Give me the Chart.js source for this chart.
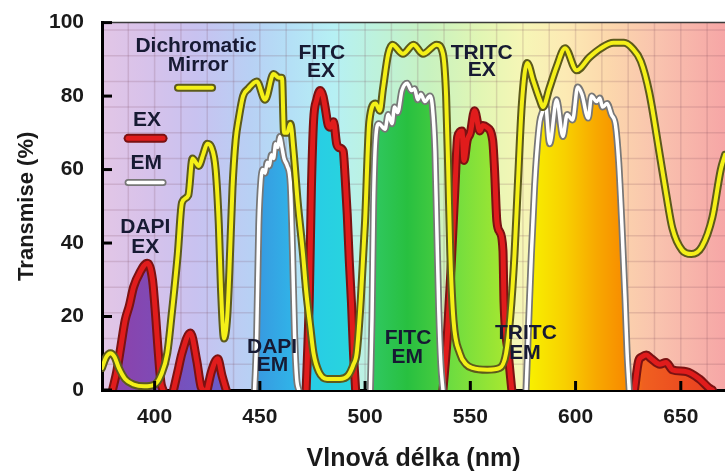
<!DOCTYPE html>
<html>
<head>
<meta charset="utf-8">
<script src="https://cdn.jsdelivr.net/npm/chart.js@4.4.1/dist/chart.umd.min.js"></script>
<style>
  html, body { margin: 0; padding: 0; background: #fff; }
</style>
</head>
<body>
<canvas id="chart" width="725" height="473"></canvas>
<script>
// osy
const xTicks = [400, 450, 500, 550, 600, 650];
const yTicks = [0, 20, 40, 60, 80, 100];

// dichroicke zrcadlo
const mirrorNm = [375, 377, 379, 381, 383, 386, 390, 395, 400, 403, 406, 408, 411, 413, 416, 418, 421, 423, 425, 427, 429, 430.5, 431.5, 433, 434.5, 435.5, 437, 438.5, 440, 442, 444.5, 448.5, 452.5, 456.5, 459, 460.5, 461.5, 463, 464.5, 466, 468, 470.5, 472, 474, 475.5, 478, 482, 488, 492, 494.5, 496, 498, 500, 502, 505, 507, 508.5, 511, 513, 518, 523, 527.5, 534, 537, 538.5, 539.5, 540.5, 542, 545, 548, 551, 558, 564, 567, 569, 571, 572.5, 574.5, 577, 580, 583, 584.5, 587.5, 591, 595, 600.5, 606.5, 612, 618, 623, 627, 631, 635, 640, 643, 646, 650.7, 655, 660, 665, 669, 671];
const mirrorT = [6, 9, 10, 9, 6, 3, 1.5, 1, 1.5, 4, 10, 20, 37, 51, 53, 63, 61, 64, 67, 66, 60, 45, 28, 14, 20, 32, 55, 68, 74, 80, 82, 84, 79, 86, 85, 85, 70, 70, 72.5, 65, 51, 37, 27, 17, 10, 5, 3, 3, 4, 7, 10, 25, 46, 73, 78, 76, 82, 91.5, 94, 91.5, 94, 91.5, 94, 91.5, 80, 60, 37, 19, 10, 7, 6, 5.5, 6, 10, 20, 37, 55, 78, 89, 84, 79, 77, 82, 88, 93, 87, 90.5, 93, 94.5, 94.5, 93, 89.5, 81, 64, 53.5, 44, 38, 37, 39, 47, 60, 64];

// excitace
const dapiExNm = [380, 382, 384, 386, 388, 390, 393, 396.5, 399, 400.5, 401.5, 403, 404];
const dapiExT = [0, 5, 12, 19, 23, 28, 32, 34.5, 30, 20, 12, 2, 0];
const dapiEx2Nm = [409, 411, 413, 417, 420, 422, 423];
const dapiEx2T = [0, 5, 10, 15.5, 8, 1, 0];
const dapiEx3Nm = [425, 427, 430, 432, 434];
const dapiEx3T = [0, 5, 8.5, 4, 0];
const fitcExNm = [472, 473.5, 474.5, 475.5, 477, 478.7, 480, 481, 482.5, 483.5, 485, 486.5, 487.5, 489.6, 490.5, 491.5, 492.5, 493.5, 494.5, 495.5];
const fitcExT = [0, 25, 55, 73, 79, 81.5, 80, 77, 72, 71.5, 73, 67, 66, 65, 58, 48, 35, 24, 10, 0];
const tritcExNm = [537, 539, 541, 542.7, 544, 546, 547, 548.5, 550, 552, 554.5, 556, 557.8, 560.6, 561.5, 562.6, 564, 565.5, 566, 568, 569.7];
const tritcExT = [0, 14, 35, 55, 69, 70.5, 62.5, 68, 70, 76, 70.5, 72, 71.5, 68, 60, 46, 43, 38, 24, 10, 0];
const redExNm = [628, 630, 631.5, 633.6, 636, 640, 643, 646, 652.6, 658.8, 663.5, 665];
const redExT = [0, 8, 9, 9.5, 8.5, 7, 7.5, 5.5, 5, 3, 0.5, 0];

// emise
const dapiEmNm = [447.5, 448.5, 449.5, 450.5, 451.5, 452.5, 453.5, 454.5, 455.5, 456.5, 457.5, 458.5, 459.5, 460.5, 461.5, 463, 464.5, 465.5, 466.5, 467.5, 468.5];
const dapiEmT = [0, 15, 45, 57, 60, 59, 62, 61, 64, 63, 67, 66, 69, 66, 63, 61, 56, 38, 15, 3, 0];
const fitcEmNm = [502.5, 503.3, 504, 505, 506.5, 509.5, 511, 512.8, 514, 515.5, 517.5, 520, 522, 523.5, 525, 526.5, 528.4, 530.8, 532, 533.2, 534, 535, 536, 537];
const fitcEmT = [0, 20, 50, 68, 72.5, 71, 75, 72.5, 77, 75.5, 81.5, 83.5, 81.5, 82, 79, 80.5, 78.5, 80, 77, 65, 46, 22, 7, 0];
const tritcEmNm = [576.5, 577.5, 579, 580.5, 581.5, 583, 584.4, 585.5, 587.7, 591, 594, 596, 598.6, 601, 603, 606, 607.6, 610, 611.5, 612.8, 615, 617, 619, 620.5, 622, 623.5, 624.5, 625.5];
const tritcEmT = [0, 15, 37, 55, 64, 73, 76, 79, 67, 79, 69, 75, 73.5, 82.5, 80.5, 74, 80, 78.5, 79.5, 77, 78, 75, 72, 62, 45, 25, 10, 0];

// barvy spektra (pozadi a vyplne)
const paleStops = [[375, '#e2c6e6'], [395, '#d8c2ea'], [420, '#c8c2f0'], [445, '#b8d0f4'], [465, '#b4e0f6'], [485, '#b6f0f4'], [505, '#bdf2dc'], [530, '#c8f2c0'], [555, '#e2f6b4'], [575, '#f6f6b6'], [595, '#fceab4'], [615, '#fcd8ac'], [640, '#f9c2ae'], [671, '#f6a6a6']];
const fillStops = [[375, '#9040a8'], [405, '#7c4cb8'], [432, '#6a5cc8'], [448, '#3898e0'], [466, '#30b4e8'], [474, '#28cce6'], [496, '#28d6dc'], [503, '#30c862'], [520, '#28c040'], [536, '#48cc40'], [540, '#6cdc40'], [568, '#a8e830'], [578, '#f8f000'], [595, '#f8d000'], [610, '#f8a800'], [625, '#f88800'], [632, '#f06020'], [671, '#e83820']];

function segmentsToPoints(segs) {
  const pts = [];
  segs.forEach(([nm, t], i) => {
    if (i > 0) pts.push({ x: nm[0] - 0.2, y: null });
    nm.forEach((v, j) => pts.push({ x: v, y: t[j] }));
  });
  return pts;
}

function spectrum(chart, stops) {
  const area = chart.chartArea;
  if (!area) return null;
  const sx = chart.scales.x;
  const g = chart.ctx.createLinearGradient(area.left, 0, area.right, 0);
  stops.forEach(([nm, c]) => {
    let f = (sx.getPixelForValue(nm) - area.left) / (area.right - area.left);
    g.addColorStop(Math.min(1, Math.max(0, f)), c);
  });
  return g;
}

const mirrorPts = segmentsToPoints([[mirrorNm, mirrorT]]);
const exPts = segmentsToPoints([[dapiExNm, dapiExT], [dapiEx2Nm, dapiEx2T], [dapiEx3Nm, dapiEx3T], [fitcExNm, fitcExT], [tritcExNm, tritcExT], [redExNm, redExT]]);
const emPts = segmentsToPoints([[dapiEmNm, dapiEmT], [fitcEmNm, fitcEmT], [tritcEmNm, tritcEmT]]);

const labelFont = 'bold 21px "Liberation Sans", Arial, sans-serif';
const inPlotText = [
  ['Dichromatic', 419.7, 93.7], ['Mirror', 420.7, 88.3],
  ['EX', 396.4, 73.4], ['EM', 396, 61.7],
  ['DAPI', 395.6, 44.3], ['EX', 395.6, 38.9],
  ['FITC', 479.5, 91.8], ['EX', 479, 86.7],
  ['TRITC', 555.4, 91.8], ['EX', 555.4, 87],
  ['DAPI', 455.8, 11.7], ['EM', 456, 6.8],
  ['FITC', 520.4, 14.1], ['EM', 520, 9],
  ['TRITC', 576.4, 15.5], ['EM', 576, 10]
];
const legendSamples = [
  [411.1, 427.3, 82.3, '#5c5a1c', '#f4f018', 8, 4],
  [387.4, 404, 68.5, '#7a1212', '#e01c1c', 9, 5],
  [387.4, 404, 56.5, '#777777', '#ffffff', 7, 3.5]
];

const decor = {
  id: 'decor',
  beforeDraw(chart) {
    const { ctx, chartArea: a, scales } = chart;
    ctx.save();
    ctx.fillStyle = '#ffffff';
    ctx.fillRect(0, 0, chart.width, chart.height);
    ctx.fillStyle = spectrum(chart, paleStops);
    ctx.fillRect(a.left, a.top, a.right - a.left, a.bottom - a.top);
    // jemna mrizka
    ctx.strokeStyle = 'rgba(120,70,90,0.18)';
    ctx.lineWidth = 1.5;
    for (let v = 375; v <= 671; v += 12.5) {
      const x = scales.x.getPixelForValue(v);
      ctx.beginPath(); ctx.moveTo(x, a.top); ctx.lineTo(x, a.bottom); ctx.stroke();
    }
    for (let v = 0; v <= 100; v += 7) {
      const y = scales.y.getPixelForValue(v);
      ctx.beginPath(); ctx.moveTo(a.left, y); ctx.lineTo(a.right, y); ctx.stroke();
    }
    ctx.restore();
  },
  afterDraw(chart) {
    const { ctx, chartArea: a, scales } = chart;
    ctx.save();
    // horni okraj
    ctx.strokeStyle = '#3a3a3a';
    ctx.lineWidth = 1.5;
    ctx.beginPath(); ctx.moveTo(a.left, a.top); ctx.lineTo(a.right, a.top); ctx.stroke();
    // znacky dovnitr
    ctx.strokeStyle = '#000';
    ctx.lineWidth = 3;
    xTicks.forEach(v => {
      const x = scales.x.getPixelForValue(v);
      ctx.beginPath(); ctx.moveTo(x, a.bottom); ctx.lineTo(x, a.bottom - 9); ctx.stroke();
    });
    yTicks.forEach(v => {
      const y = scales.y.getPixelForValue(v);
      ctx.beginPath(); ctx.moveTo(a.left, y); ctx.lineTo(a.left + 10, y); ctx.stroke();
    });
    // vzorky legendy
    ctx.lineCap = 'round';
    legendSamples.forEach(([x0, x1, yv, edge, core, w1, w2]) => {
      const px0 = scales.x.getPixelForValue(x0), px1 = scales.x.getPixelForValue(x1);
      const py = scales.y.getPixelForValue(yv);
      ctx.strokeStyle = edge; ctx.lineWidth = w1;
      ctx.beginPath(); ctx.moveTo(px0, py); ctx.lineTo(px1, py); ctx.stroke();
      ctx.strokeStyle = core; ctx.lineWidth = w2;
      ctx.beginPath(); ctx.moveTo(px0, py); ctx.lineTo(px1, py); ctx.stroke();
    });
    // popisky
    ctx.font = labelFont;
    ctx.fillStyle = '#171a33';
    ctx.textAlign = 'center';
    ctx.textBaseline = 'middle';
    inPlotText.forEach(([t, xv, yv]) => {
      ctx.fillText(t, scales.x.getPixelForValue(xv), scales.y.getPixelForValue(yv));
    });
    ctx.restore();
  }
};

function lineSet(data, color, width, order, fill) {
  return {
    data: data,
    borderColor: color,
    borderWidth: width,
    pointRadius: 0,
    cubicInterpolationMode: 'monotone',
    borderJoinStyle: 'round',
    borderCapStyle: 'round',
    spanGaps: false,
    fill: fill ? 'origin' : false,
    backgroundColor: fill ? (c => spectrum(c.chart, fillStops)) : 'transparent',
    order: order
  };
}

new Chart(document.getElementById('chart'), {
  type: 'line',
  data: {
    datasets: [
      lineSet(mirrorPts, '#f4f018', 4, 0, false),
      lineSet(mirrorPts, '#5c5a1c', 8, 1, false),
      lineSet(emPts, '#ffffff', 3.5, 2, false),
      lineSet(emPts, '#777777', 7, 3, true),
      lineSet(exPts, '#e01c1c', 5, 4, false),
      lineSet(exPts, '#7a1212', 9, 5, true)
    ]
  },
  options: {
    responsive: false,
    devicePixelRatio: 1,
    animation: false,
    layout: { padding: { top: 22, right: 0, left: 0, bottom: 0 } },
    plugins: {
      legend: { display: false },
      tooltip: { enabled: false },
      filler: { drawTime: 'beforeDatasetsDraw' }
    },
    scales: {
      x: {
        type: 'linear',
        min: 375,
        max: 671,
        z: 1,
        afterBuildTicks: s => { s.ticks = xTicks.map(v => ({ value: v })); },
        afterFit: s => { s.height = 83; },
        grid: { display: false },
        border: { display: true, color: '#000', width: 3 },
        ticks: {
          padding: 7,
          color: '#1a1a1a',
          font: { family: '"Liberation Sans", Arial, sans-serif', size: 21, weight: 'bold' }
        },
        title: {
          display: true,
          text: 'Vlnová délka (nm)',
          color: '#1a1a1a',
          font: { family: '"Liberation Sans", Arial, sans-serif', size: 25, weight: 'bold' },
          padding: { top: 0, bottom: -1 }
        }
      },
      y: {
        min: 0,
        max: 100,
        z: 1,
        afterBuildTicks: s => { s.ticks = yTicks.map(v => ({ value: v })); },
        afterFit: s => { s.width = 102; },
        grid: { display: false },
        border: { display: true, color: '#000', width: 3 },
        ticks: {
          padding: 10,
          color: '#1a1a1a',
          font: { family: '"Liberation Sans", Arial, sans-serif', size: 21, weight: 'bold' }
        },
        title: {
          display: true,
          text: 'Transmise (%)',
          color: '#1a1a1a',
          font: { family: '"Liberation Sans", Arial, sans-serif', size: 22, weight: 'bold' },
          padding: { top: 14, bottom: 0 }
        }
      }
    }
  },
  plugins: [decor]
});
</script>
</body>
</html>
